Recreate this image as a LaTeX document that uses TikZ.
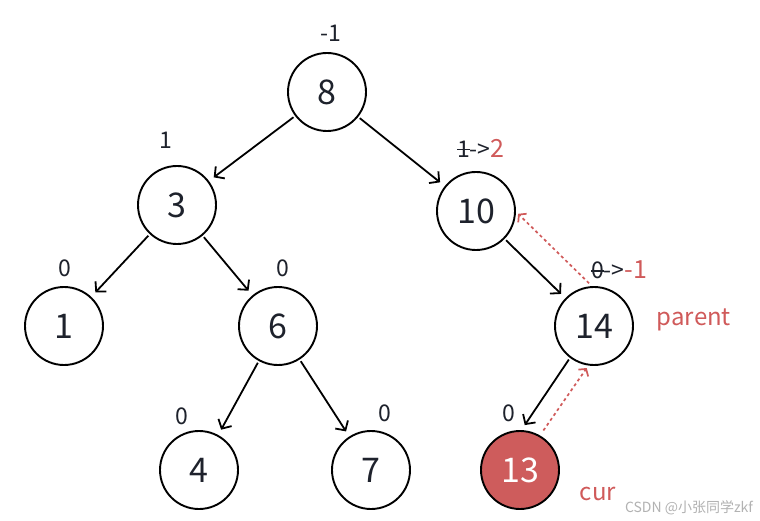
\documentclass[tikz,border=0pt]{standalone}
\usepackage{fontspec}
\setmainfont{Noto Sans CJK SC}
\usetikzlibrary{arrows.meta}
\definecolor{myred}{RGB}{208,90,90}
\definecolor{myfill}{RGB}{206,92,92}
\definecolor{ink}{RGB}{30,34,44}
\newcommand\strk[1]{\sbox0{#1}\rlap{\rule[0.30em]{\wd0}{0.07em}}#1}
\begin{document}
\begin{tikzpicture}[x=1pt,y=-1pt,
  tnode/.style={circle,draw=black,line width=1.9pt,minimum size=78pt,inner sep=0pt,
    text=ink,font=\fontsize{34}{34}\selectfont},
  hot/.style={tnode,fill=myfill,text=white},
  edge/.style={draw=black,line width=1.8pt,-{Straight Barb[length=7pt,width=15pt,line width=1.8pt]},shorten <=2pt,shorten >=6pt},
  back/.style={draw=myred,line width=1.7pt,dash pattern=on 3pt off 3pt,-{Straight Barb[length=5pt,width=12pt,line width=1.7pt]},shorten <=4pt,shorten >=3pt},
  lbl/.style={text=ink,font=\fontsize{23}{23}\selectfont,inner sep=0pt},
  rlbl/.style={text=myred,font=\fontsize{24}{24}\selectfont,inner sep=0pt}]
\useasboundingbox (0,0) rectangle (760,521);
\fill[white] (0,0) rectangle (760,521);
\node[tnode] (n8) at (327,92) {8};
\node[tnode] (n3) at (177,205) {3};
\node[tnode] (n10) at (476,211) {10};
\node[tnode] (n1) at (64,326) {1};
\node[tnode] (n6) at (278,326) {6};
\node[tnode] (n14) at (594,326) {14};
\node[tnode] (n4) at (199,470) {4};
\node[tnode] (n7) at (371,470) {7};
\node[hot] (n13) at (520,470) {13};
\draw[edge] (n8) -- (n3);
\draw[edge] (n8) -- (n10);
\draw[edge] (n3) -- (n1);
\draw[edge] (n3) -- (n6);
\draw[edge] (n6) -- (n4);
\draw[edge] (n6) -- (n7);
\draw[edge] (n10) -- (n14);
\draw[edge] (n14.233) -- (n13.88);
\draw[back] (n14.93) -- (n10.-1);
\draw[back,shorten <=6pt] (n13.60) -- (n14.-98);
\node[lbl] (l8) at (331,33) {-1};
\node[lbl] (l3) at (166,140) {1};
\node[lbl,anchor=west] (l10) at (457,148) {\strk{1}->\textcolor{myred}{\fontsize{25}{25}\selectfont 2}};
\node[lbl] (l1) at (65,268) {0};
\node[lbl] (l6) at (283,268) {0};
\node[lbl,anchor=west] (l14) at (591,270) {\strk{0}->\textcolor{myred}{\fontsize{25}{25}\selectfont -1}};
\node[rlbl] (lp) at (694,320) {parent};
\node[lbl] (l4) at (182,416) {0};
\node[lbl] (l7) at (385,413) {0};
\node[lbl] (l13) at (509,413) {0};
\node[rlbl] (lc) at (598,494) {cur};
\node[text=black!30,font=\fontsize{14}{14}\selectfont,inner sep=0pt] (wm) at (689,508) {CSDN @小张同学zkf};
\end{tikzpicture}
\end{document}
